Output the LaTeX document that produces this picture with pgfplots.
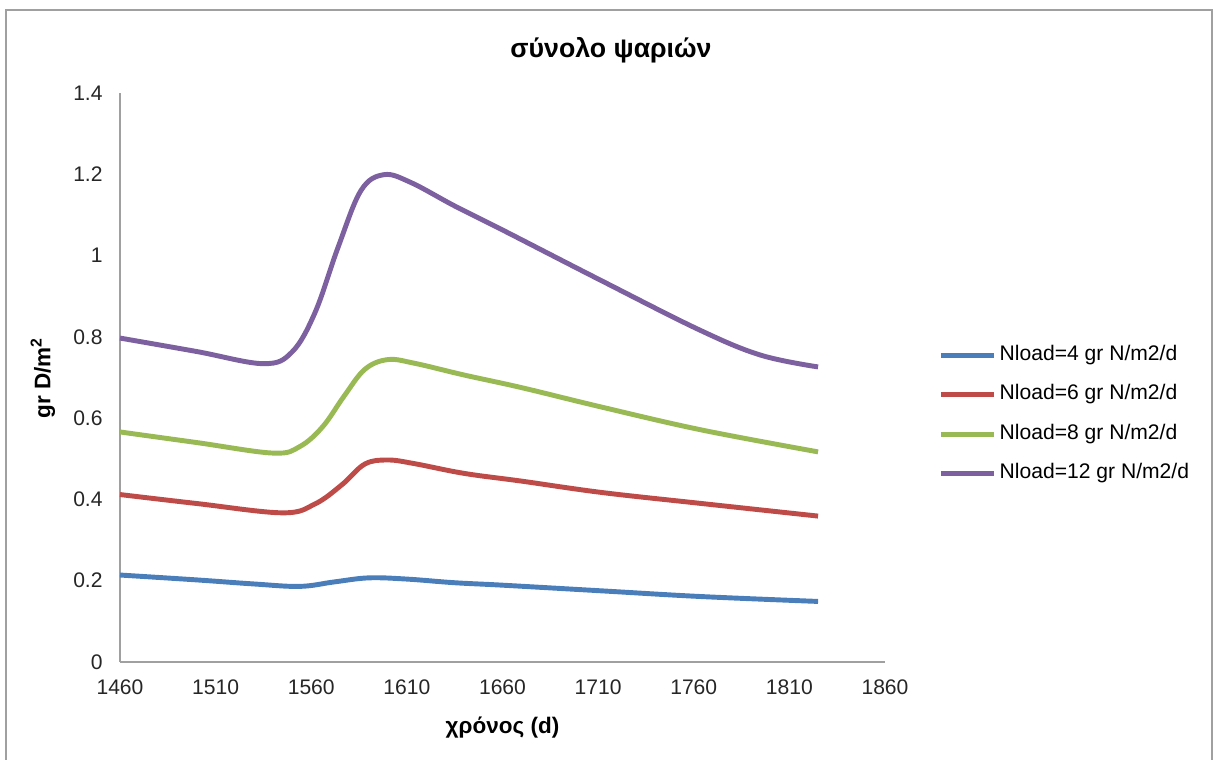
\documentclass[border=0pt]{standalone}
\usepackage{pgfplots}
\pgfplotsset{compat=1.18}
\usepackage{fontspec}
\setmainfont{Liberation Sans}
\definecolor{cblue}{HTML}{4A7EBB}
\definecolor{cred}{HTML}{BE4B48}
\definecolor{cgreen}{HTML}{98B954}
\definecolor{cpurple}{HTML}{7D60A0}
\definecolor{frame}{HTML}{A0A0A0}
\begin{document}
\begin{tikzpicture}[x=1cm,y=1cm]
\useasboundingbox (0,0) rectangle (12.13,7.60);
\draw[frame, line width=0.8pt] (0.06,-0.2) -- (0.06,7.50) -- (12.12,7.50) -- (12.12,-0.2);
\node[font=\fontsize{7.6}{9}\selectfont\bfseries] at (6.11,7.10) {σύνολο ψαριών};
\begin{axis}[
  at={(1.20cm,0.98cm)}, anchor=origin,
  scale only axis, width=7.65cm, height=5.69cm,
  xmin=1460, xmax=1860, ymin=0, ymax=1.4,
  xtick={1460,1510,...,1860}, ytick={0,0.2,...,1.4},
  yticklabels={0,0.2,0.4,0.6,0.8,1,1.2,1.4},
  xticklabel style={/pgf/number format/1000 sep={}},
  /pgf/number format/assume math mode=true,
  axis x line*=bottom, axis y line*=left,
  axis line style={draw=frame, line width=0.6pt, -},
  major tick length=0pt,
  tick label style={font=\fontsize{6}{7}\selectfont, text=black!85},
  xticklabel style={yshift=-0.05cm},
  yticklabel style={xshift=-0.05cm},
  xlabel={\textbf{χρόνος (d)}},
  ylabel={\textbf{gr D/m\textsuperscript{2}}},
  label style={font=\fontsize{6.4}{7.5}\selectfont},
  xlabel style={yshift=0.02cm},
  ylabel style={yshift=-0.06cm},
  legend style={at={(1.055,0.435)}, anchor=west, draw=none, fill=none,
    font=\fontsize{6}{7}\selectfont, row sep=0.05cm,
    nodes={inner xsep=1pt},
    legend cell align=left},
  legend image code/.code={\draw[#1, line width=1.4pt] (0cm,0cm) -- (0.53cm,0cm);},
  every axis plot/.append style={line width=1.4pt, smooth, tension=0.6, no markers},
  clip=false,
]
\addplot[cblue] coordinates {
(1460,0.214) (1500,0.202) (1530,0.192) (1554,0.186) (1572,0.197) (1590,0.207)
(1610,0.204) (1635,0.195) (1660,0.189) (1712,0.175) (1764,0.161) (1825,0.149)};
\addlegendentry{Nload=4 gr N/m2/d}
\addplot[cred] coordinates {
(1460,0.412) (1500,0.390) (1545,0.367) (1562,0.389) (1576,0.436) (1588,0.487)
(1600,0.497) (1614,0.488) (1640,0.464) (1670,0.445) (1712,0.417)
(1764,0.390) (1825,0.359)};
\addlegendentry{Nload=6 gr N/m2/d}
\addplot[cgreen] coordinates {
(1460,0.566) (1500,0.540) (1540,0.514) (1554,0.530) (1566,0.579) (1577,0.653)
(1588,0.720) (1600,0.744) (1614,0.735) (1640,0.706) (1670,0.675)
(1712,0.627) (1764,0.571) (1825,0.517)};
\addlegendentry{Nload=8 gr N/m2/d}
\addplot[cpurple] coordinates {
(1460,0.797) (1500,0.764) (1535,0.734) (1550,0.763) (1562,0.860) (1574,1.020)
(1586,1.160) (1598,1.199) (1612,1.180) (1635,1.122) (1660,1.063) (1711,0.940)
(1763,0.817) (1795,0.755) (1825,0.726)};
\addlegendentry{Nload=12 gr N/m2/d}
\end{axis}
\end{tikzpicture}
\end{document}
